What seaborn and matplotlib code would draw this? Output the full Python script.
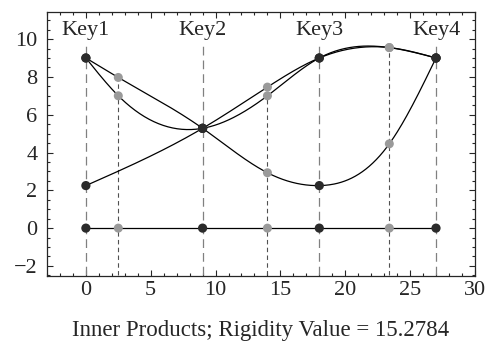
import numpy as np
import matplotlib
matplotlib.use("Agg")
import matplotlib.pyplot as plt
from matplotlib.ticker import MultipleLocator
import seaborn as sns

# key positions and the in-between sample positions
key_x = [0, 9, 18, 27]
key_labels = ["Key1", "Key2", "Key3", "Key4"]
mid_x = [2.5, 14, 23.4]

# curves: values at key positions and at the in-between samples (None = no sample)
a_key = [9, 5.28, 2.25, 9]
a_mid = [7.97, 2.93, 4.46]
b_key = [9, 5.28, 9, 9]
b_mid = [7.0, 7.0, 9.55]
c_key = [2.25, 5.28, 9, 9]
c_mid = [None, 7.46, 9.55]
d_key = [0, 0, 0, 0]
d_mid = [0, 0, 0]

xlabel = "Inner Products; Rigidity Value = 15.2784"


def spline(xs, ys, n=300):
    # natural cubic spline through the nodes, for drawing the smooth curve
    xs = np.asarray(xs, float)
    ys = np.asarray(ys, float)
    k = len(xs)
    h = np.diff(xs)
    A = np.zeros((k, k))
    r = np.zeros(k)
    A[0, 0] = A[-1, -1] = 1
    for i in range(1, k - 1):
        A[i, i - 1] = h[i - 1]
        A[i, i] = 2 * (h[i - 1] + h[i])
        A[i, i + 1] = h[i]
        r[i] = 6 * ((ys[i + 1] - ys[i]) / h[i] - (ys[i] - ys[i - 1]) / h[i - 1])
    m = np.linalg.solve(A, r)
    xx = np.linspace(xs[0], xs[-1], n)
    j = np.clip(np.searchsorted(xs, xx) - 1, 0, k - 2)
    t0 = xs[j + 1] - xx
    t1 = xx - xs[j]
    hj = h[j]
    yy = (m[j] * t0**3 + m[j + 1] * t1**3) / (6 * hj) \
        + (ys[j] / hj - m[j] * hj / 6) * t0 + (ys[j + 1] / hj - m[j + 1] * hj / 6) * t1
    return xx, yy


def nodes(kv, mv):
    pts = [(x, y) for x, y in zip(key_x, kv)] + [(x, y) for x, y in zip(mid_x, mv) if y is not None]
    pts.sort()
    return [p[0] for p in pts], [p[1] for p in pts]


sns.set_style("ticks")
plt.rcParams["font.family"] = ["Liberation Serif", "DejaVu Serif"]

fig = plt.figure(figsize=(4.93, 3.43), dpi=100)
ax = fig.add_axes([0.0953, 0.196, 0.868, 0.770])

# dashed guide lines
for x in key_x:
    ax.plot([x, x], [-2.5, 9.75], color="#808080", lw=0.9, ls=(0, (7, 4)), zorder=1)
for i, x in enumerate(mid_x):
    top = max(v for v in (a_mid[i], b_mid[i], c_mid[i]) if v is not None)
    ax.plot([x, x], [-2.5, top], color="#505050", lw=0.8, ls=(0, (4, 3)), zorder=1)

for kv, mv in [(a_key, a_mid), (b_key, b_mid), (c_key, c_mid), (d_key, d_mid)]:
    nx, ny = nodes(kv, mv)
    xx, yy = spline(nx, ny)
    sns.lineplot(x=xx, y=yy, color="black", lw=0.9, sort=False, ax=ax, zorder=2)
    gx = [x for x, y in zip(mid_x, mv) if y is not None]
    gy = [y for y in mv if y is not None]
    sns.scatterplot(x=gx, y=gy, color="#9a9a9a", s=42, edgecolor="none", ax=ax, zorder=3)
    sns.scatterplot(x=key_x, y=kv, color="#2b2b2b", s=44, edgecolor="none", ax=ax, zorder=4)

for x, lab in zip(key_x, key_labels):
    ax.text(x, 10.45, lab, ha="center", va="center", fontsize=16)

ax.set_xlim(-3, 30)
ax.set_ylim(-2.52, 11.45)
ax.xaxis.set_major_locator(MultipleLocator(5))
ax.xaxis.set_minor_locator(MultipleLocator(1))
ax.yaxis.set_major_locator(MultipleLocator(2))
ax.yaxis.set_minor_locator(MultipleLocator(0.5))
ax.tick_params(which="both", direction="in", top=True, right=True, labelsize=16, width=0.8)
ax.tick_params(which="major", length=4)
ax.tick_params(which="minor", length=2)
ax.tick_params(axis="y", pad=7)
ax.tick_params(axis="x", pad=4)
ax.set_yticks([-2, 0, 2, 4, 6, 8, 10])
ax.set_yticklabels(["\u22122", "0", "2", "4", "6", "8", "10"])
for s in ax.spines.values():
    s.set_linewidth(0.9)
ax.set_xlabel(xlabel, fontsize=16.5, labelpad=14)

fig.savefig("out.png", dpi=100)
